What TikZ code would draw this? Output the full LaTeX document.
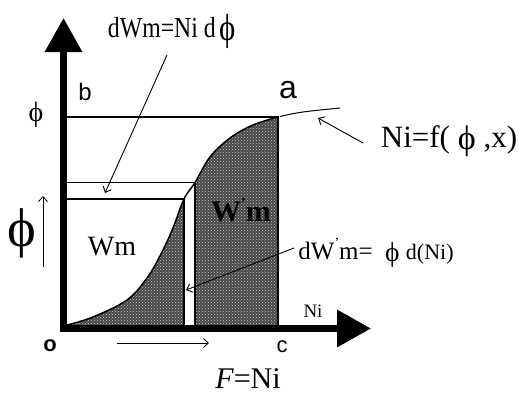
\documentclass[tikz,border=0pt]{standalone}
\usepackage{fontspec}
\setmainfont{Liberation Serif}
\newfontfamily\sansf{Liberation Sans}
\usetikzlibrary{arrows.meta,patterns}
\newcommand\sphi[1]{\raisebox{-0.08em}{\scalebox{#1}{ϕ}}}
\begin{document}
\begin{tikzpicture}[x=1pt,y=-1pt,
  thinline/.style={line width=1.2pt},
  leader/.style={line width=0.9pt,-{Straight Barb[length=5pt,width=9pt]}},
  axisline/.style={line width=6.5pt,-{Triangle[length=34pt,width=36pt]}},
  lbl/.style={inner sep=0pt,anchor=center}]
\useasboundingbox (0,0) rectangle (525,394);
% key points
\coordinate (O) at (67,325);
\coordinate (a) at (278,117);
\coordinate (c) at (278,325);
\coordinate (bb) at (67,117);
\coordinate (Ytail) at (63.5,332);
\coordinate (Ytip) at (63.5,18);
\coordinate (Xtail) at (60,328.5);
\coordinate (Xtip) at (371,328.5);
\coordinate (hiL) at (67,182.5);
\coordinate (hiR) at (195,182.5);
\coordinate (loL) at (67,199);
\coordinate (loR) at (184,199);
\coordinate (sL) at (184,325);
\coordinate (sR) at (195,325);
\def\curve{plot[smooth,tension=0.6] coordinates {(67,325) (93,317) (127,300) (147,278) (161,254) (173,228) (184,199) (195,182.5) (210,157) (230,138) (253,125) (278,117)}}
% shading
\fill[black!72] \curve -- (c) -- (O) -- cycle;
\fill[pattern=crosshatch dots, pattern color=white!80!black] \curve -- (c) -- (O) -- cycle;
\fill[white] (184,182.5) rectangle (195,325);
% curve and lines
\draw[line width=1.5pt] \curve;
\draw[thinline] (bb) -- (a) -- (c);
\draw[thinline] (hiL) -- (hiR);
\draw[thinline] (loL) -- (loR);
\draw[thinline] (sL) -- (loR);
\draw[thinline] (sR) -- (hiR);
% continuation beyond a
\coordinate (aext) at (340,108);
\draw[line width=1pt] (280,116.5) .. controls (300,112) .. (aext);
% axes
\draw[axisline] (Ytail) -- (Ytip);
\draw[axisline] (Xtail) -- (Xtip);
% labels
\node[lbl,font=\fontsize{29}{29}\selectfont,xscale=0.82] (dwm) at (172,31) {dWm=Ni d\,\sphi{1.3}};
\node[lbl,font=\sansf\fontsize{24}{24}\selectfont] (lb) at (85,92) {b};
\node[lbl,font=\sansf\fontsize{32}{32}\selectfont] (la) at (288,90) {a};
\node[lbl,font=\fontsize{20}{20}\selectfont] (phiTop) at (36,115) {\sphi{1.4}};
\node[lbl,font=\fontsize{42}{42}\selectfont] (phiBig) at (22,233) {\sphi{1.3}};
\node[lbl,font=\fontsize{28}{28}\selectfont] (wm) at (112,247) {Wm};
\node[lbl,font=\bfseries\fontsize{30}{30}\selectfont] (wpm) at (241,210) {W\raisebox{0.45em}{\fontsize{14}{14}\selectfont '}m};
\node[lbl,font=\fontsize{25}{25}\selectfont] (dwpm) at (376,253) {dW\raisebox{0.5em}{\fontsize{14}{14}\selectfont '}m= \ \sphi{1.1}\ {\fontsize{22}{22}\selectfont d(Ni)}};
\node[lbl,font=\fontsize{31}{31}\selectfont] (nif) at (449,141) {Ni=f( \sphi{1.1} ,x)};
\node[lbl,font=\fontsize{19}{19}\selectfont] (niax) at (313,311) {Ni};
\node[lbl,font=\sansf\bfseries\fontsize{22}{22}\selectfont] (lo) at (50,346) {o};
\node[lbl,font=\sansf\fontsize{22}{22}\selectfont] (lc) at (282,347) {c};
\node[lbl,font=\fontsize{30}{30}\selectfont] (fni) at (248,379) {\textit{F}=Ni};
% leaders
\coordinate (l1s) at (167,55);
\coordinate (l1e) at (105,193);
\draw[leader] (l1s) -- (l1e);
\coordinate (l2s) at (363,143);
\coordinate (l2e) at (318,118);
\draw[leader] (l2s) -- (l2e);
\coordinate (l3s) at (294,248);
\coordinate (l3e) at (186,290);
\draw[leader] (l3s) -- (l3e);
% small direction arrows
\coordinate (p1s) at (43,267);
\coordinate (p1e) at (43,196);
\draw[leader,line width=0.8pt] (p1s) -- (p1e);
\coordinate (p2s) at (117,343);
\coordinate (p2e) at (209,343);
\draw[leader,line width=0.8pt] (p2s) -- (p2e);
\end{tikzpicture}
\end{document}
